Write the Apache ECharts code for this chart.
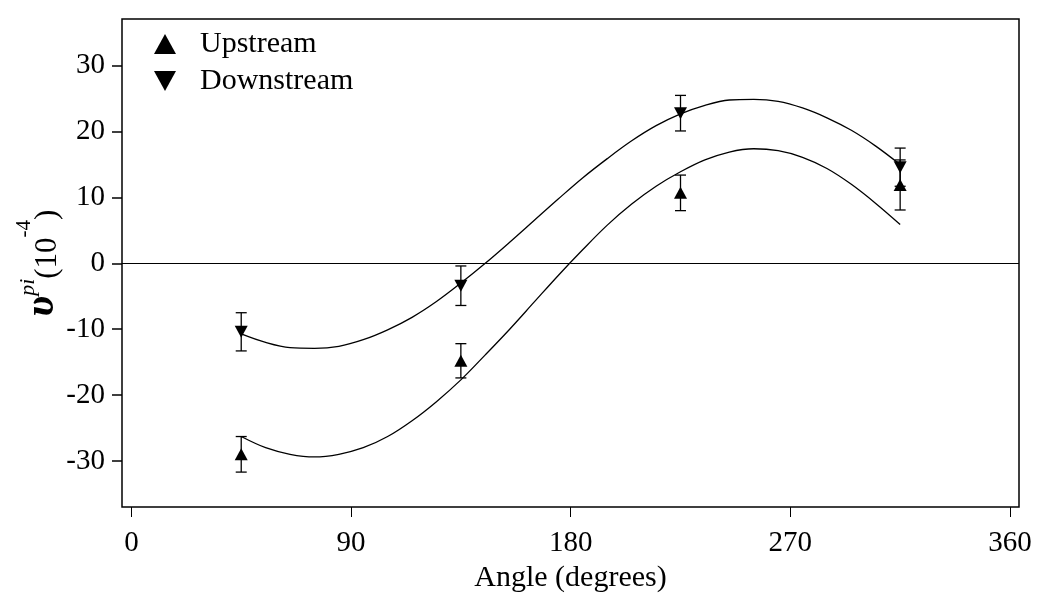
<!DOCTYPE html>
<html>
<head>
<meta charset="utf-8">
<script src="https://cdn.jsdelivr.net/npm/echarts@6/dist/echarts.min.js"></script>
<style>
html, body { margin: 0; padding: 0; background: #fff; }
#chart { width: 1043px; height: 602px; }
</style>
</head>
<body>
<div id="chart"></div>
<script>
// measured points (angle in degrees, value in 1e-4)
var angles = [45, 135, 225, 315];
var upstream = [-29.0, -14.8, 10.7, 11.9];
var upstreamErr = [2.7, 2.6, 2.7, 3.8];
var downstream = [-10.4, -3.4, 22.8, 14.6];
var downstreamErr = [2.9, 3.0, 2.7, 2.9];

// fitted curves, every 10 degrees
var fitAngles = [45, 55, 65, 75, 85, 95, 105, 115, 125, 135, 145, 155, 165, 175, 185, 195, 205, 215, 225, 235, 245, 255, 265, 275, 285, 295, 305, 315];
var upstreamFit = [-26.3, -28.0, -29.0, -29.4, -29.0, -28.0, -26.3, -23.9, -21.0, -17.7, -13.9, -10.0, -5.9, -1.8, 2.1, 5.8, 9.0, 11.7, 13.9, 15.7, 16.9, 17.4, 17.1, 16.1, 14.4, 12.0, 9.1, 5.9];
var downstreamFit = [-10.7, -12.0, -12.8, -12.9, -12.6, -11.6, -10.1, -8.2, -5.8, -3.0, 0.0, 3.2, 6.5, 9.8, 13.0, 15.9, 18.6, 20.9, 22.7, 24.0, 24.8, 24.9, 24.6, 23.6, 22.1, 20.2, 17.8, 15.0];

var xTicks = [0, 90, 180, 270, 360];
var yTicks = [-30, -20, -10, 0, 10, 20, 30];

var serif = 'Liberation Serif';
var downTri = 'path://M0,0 L10,0 L5,9 Z';

function pairs(xs, ys) {
    return xs.map(function (x, i) { return [x, ys[i]]; });
}

function bars(vals, errs) {
    return angles.map(function (a, i) { return [a, vals[i] - errs[i], vals[i] + errs[i]]; });
}

function renderBar(params, api) {
    var x = api.value(0);
    var lo = api.coord([x, api.value(1)]);
    var hi = api.coord([x, api.value(2)]);
    var w = 5.5;
    var st = { stroke: '#000', lineWidth: 1.3 };
    return {
        type: 'group',
        children: [
            { type: 'line', shape: { x1: lo[0], y1: lo[1], x2: hi[0], y2: hi[1] }, style: st },
            { type: 'line', shape: { x1: lo[0] - w, y1: lo[1], x2: lo[0] + w, y2: lo[1] }, style: st },
            { type: 'line', shape: { x1: hi[0] - w, y1: hi[1], x2: hi[0] + w, y2: hi[1] }, style: st }
        ]
    };
}

var chart = echarts.init(document.getElementById('chart'));

var option = {
    animation: false,
    backgroundColor: '#fff',
    grid: {
        left: 122, right: 24, top: 19, bottom: 95,
        show: true, borderColor: '#000', borderWidth: 1.5
    },
    legend: {
        orient: 'vertical',
        left: 154, top: 29, padding: 0,
        itemWidth: 22, itemHeight: 20, itemGap: 7,
        itemStyle: { opacity: 1 },
        textStyle: { fontFamily: serif, fontSize: 30, color: '#000', padding: [0, 0, 0, 19] },
        data: [
            { name: 'Upstream', icon: 'triangle' },
            { name: 'Downstream', icon: downTri }
        ]
    },
    xAxis: {
        type: 'value',
        min: -3.85, max: 363.7,
        name: 'Angle (degrees)',
        nameLocation: 'middle',
        nameGap: 56,
        nameMoveOverlap: false,
        nameTextStyle: { fontFamily: serif, fontSize: 30, color: '#000' },
        axisLine: { show: false, onZero: false },
        axisTick: { show: true, length: 10, customValues: xTicks, lineStyle: { color: '#000', width: 1 } },
        axisLabel: { customValues: xTicks, margin: 22, fontFamily: serif, fontSize: 29, color: '#000' },
        splitLine: { show: false }
    },
    yAxis: {
        type: 'value',
        min: -37, max: 37.1,
        name: '{v|υ}{pi|pi}{p|(10}{e|-4}{p|)}',
        nameLocation: 'middle',
        nameRotate: 90,
        nameGap: 59,
        nameMoveOverlap: false,
        nameTextStyle: {
            fontFamily: serif, color: '#000',
            rich: {
                v: { fontFamily: serif, fontSize: 42, lineHeight: 42, fontStyle: 'italic', fontWeight: 'bold', verticalAlign: 'bottom' },
                pi: { fontFamily: serif, fontSize: 22, fontStyle: 'italic', verticalAlign: 'bottom', padding: [0, 0, 24, 0] },
                p: { fontFamily: serif, fontSize: 31, lineHeight: 31, verticalAlign: 'bottom' },
                e: { fontFamily: serif, fontSize: 21, verticalAlign: 'bottom', padding: [0, 0, 28, 0] }
            }
        },
        axisLine: { show: false, onZero: false },
        axisTick: { show: true, length: 10, customValues: yTicks, lineStyle: { color: '#000', width: 1.5 } },
        axisLabel: { customValues: yTicks, margin: 17, fontFamily: serif, fontSize: 29, color: '#000' },
        splitLine: { show: false }
    },
    series: [
        {
            name: 'upFit', type: 'line', smooth: 0.35, showSymbol: false, silent: true,
            data: pairs(fitAngles, upstreamFit),
            lineStyle: { color: '#000', width: 1.3 },
            markLine: {
                silent: true, symbol: 'none', label: { show: false },
                lineStyle: { color: '#000', type: 'solid', width: 1 },
                data: [{ yAxis: 0 }]
            }
        },
        {
            name: 'downFit', type: 'line', smooth: 0.35, showSymbol: false, silent: true,
            data: pairs(fitAngles, downstreamFit),
            lineStyle: { color: '#000', width: 1.3 }
        },
        {
            name: 'upErr', type: 'custom', renderItem: renderBar,
            encode: { x: 0, y: [1, 2] },
            data: bars(upstream, upstreamErr)
        },
        {
            name: 'downErr', type: 'custom', renderItem: renderBar,
            encode: { x: 0, y: [1, 2] },
            data: bars(downstream, downstreamErr)
        },
        {
            name: 'Upstream', type: 'scatter', symbol: 'triangle', symbolSize: [13, 12],
            itemStyle: { color: '#000', opacity: 1 },
            data: pairs(angles, upstream)
        },
        {
            name: 'Downstream', type: 'scatter', symbol: downTri, symbolSize: [13, 12],
            itemStyle: { color: '#000', opacity: 1 },
            data: pairs(angles, downstream)
        }
    ]
};

chart.setOption(option);
</script>
</body>
</html>
